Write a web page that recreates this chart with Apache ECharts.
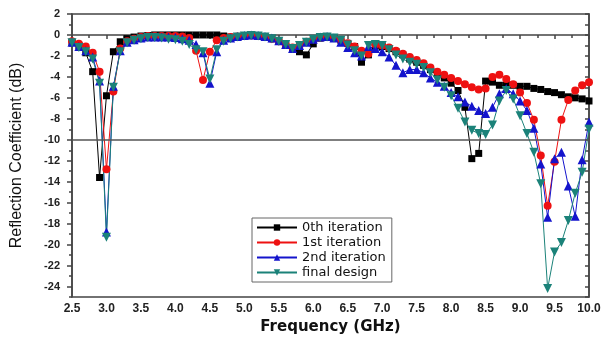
<!DOCTYPE html>
<html>
<head>
<meta charset="utf-8">
<script src="https://cdn.jsdelivr.net/npm/echarts@6/dist/echarts.min.js"></script>
<style>
  html, body { margin: 0; padding: 0; background: #fff; }
  #chart { width: 604px; height: 345px; }
</style>
</head>
<body>
<div id="chart"></div>
<script>
// frequency points (GHz)
var freq = [2.5, 2.6, 2.7, 2.8, 2.9, 3.0, 3.1, 3.2, 3.3, 3.4, 3.5, 3.6, 3.7, 3.8, 3.9, 4.0,
	4.1, 4.2, 4.3, 4.4, 4.5, 4.6, 4.7, 4.8, 4.9, 5.0, 5.1, 5.2, 5.3, 5.4, 5.5, 5.6, 5.7, 5.8,
	5.9, 6.0, 6.1, 6.2, 6.3, 6.4, 6.5, 6.6, 6.7, 6.8, 6.9, 7.0, 7.1, 7.2, 7.3, 7.4, 7.5, 7.6,
	7.7, 7.8, 7.9, 8.0, 8.1, 8.2, 8.3, 8.4, 8.5, 8.6, 8.7, 8.8, 8.9, 9.0, 9.1, 9.2, 9.3, 9.4,
	9.5, 9.6, 9.7, 9.8, 9.9, 10.0];

// reflection coefficient (dB)
var iter0 = [-0.7, -1.0, -1.7, -3.5, -13.6, -5.8, -1.6, -0.65, -0.35, -0.2, -0.1, -0.05, 0, 0, 0, 0,
	0, 0, 0, 0, 0, 0, -0.1, -0.2, -0.15, -0.1, -0.05, -0.1, -0.2, -0.35, -0.6, -0.9, -1.2, -1.6,
	-1.9, -0.85, -0.3, -0.2, -0.3, -0.5, -0.8, -1.1, -2.6, -1.9, -1.0, -1.1, -1.3, -1.6, -1.9, -2.3, -2.6, -2.9,
	-3.3, -3.7, -4.1, -4.6, -5.3, -6.9, -11.8, -11.3, -4.4, -4.5, -4.8, -4.8, -4.8, -4.9, -4.9, -5.1, -5.2, -5.4,
	-5.5, -5.7, -5.9, -6.0, -6.1, -6.3];

var iter1 = [-0.6, -0.85, -1.1, -1.7, -3.5, -12.8, -5.4, -1.3, -0.6, -0.35, -0.2, -0.1, -0.1, -0.1, -0.1, -0.1,
	-0.15, -0.3, -1.5, -4.3, -1.6, -0.5, -0.3, -0.2, -0.15, -0.1, -0.05, -0.1, -0.2, -0.35, -0.6, -0.9, -1.2, -1.0,
	-0.65, -0.4, -0.25, -0.2, -0.3, -0.5, -0.8, -1.1, -1.5, -1.8, -0.9, -1.0, -1.2, -1.5, -1.8, -2.1, -2.4, -2.7,
	-3.1, -3.5, -3.8, -4.1, -4.4, -4.7, -5.0, -5.2, -5.1, -4.0, -3.8, -4.2, -4.7, -5.5, -6.5, -8.1, -11.5, -16.3,
	-12.1, -8.1, -6.2, -5.3, -4.8, -4.5];

var iter2 = [-0.7, -1.1, -1.5, -2.1, -4.4, -18.8, -4.9, -1.5, -0.7, -0.45, -0.3, -0.2, -0.2, -0.2, -0.2, -0.25,
	-0.35, -0.5, -0.9, -1.7, -4.6, -1.6, -0.5, -0.3, -0.15, -0.05, 0, -0.05, -0.15, -0.3, -0.55, -0.9, -1.3, -1.0,
	-0.7, -0.4, -0.2, -0.15, -0.3, -0.7, -1.2, -1.7, -2.0, -1.1, -1.3, -1.6, -2.1, -2.9, -3.6, -3.3, -3.3, -3.6,
	-4.1, -4.5, -4.9, -5.5, -5.9, -6.4, -6.8, -7.2, -7.5, -6.9, -5.6, -5.1, -5.6, -6.3, -7.2, -8.9, -12.3, -17.4,
	-11.8, -11.2, -14.4, -17.3, -11.9, -8.3];

var finalDesign = [-0.75, -1.2, -1.6, -2.3, -4.6, -19.3, -5.0, -1.6, -0.75, -0.5, -0.35, -0.25, -0.25, -0.3, -0.4, -0.45,
	-0.6, -0.9, -1.4, -1.6, -4.2, -1.4, -0.6, -0.35, -0.2, -0.1, -0.05, -0.1, -0.2, -0.35, -0.6, -0.9, -1.3, -1.0,
	-0.7, -0.4, -0.25, -0.2, -0.3, -0.5, -0.95, -1.5, -2.0, -1.0, -0.9, -1.0, -1.4, -1.9, -2.3, -2.6, -2.8, -3.1,
	-3.6, -4.3, -5.0, -5.8, -7.0, -8.3, -9.1, -9.4, -9.5, -8.6, -6.3, -5.3, -6.1, -7.7, -9.4, -11.2, -14.2, -24.2,
	-20.7, -19.8, -17.7, -15.1, -13.1, -9.0];

var seriesNames = ['0th iteration', '1st iteration', '2nd iteration', 'final design'];
var yMajor = [2, 0, -2, -4, -6, -8, -10, -12, -14, -16, -18, -20, -22, -24];
var yMinor = [1, -1, -3, -5, -7, -9, -11, -13, -15, -17, -19, -21, -23, -25];

function pairs(vals) {
	return freq.map(function (f, i) { return [f, vals[i]]; });
}

var font = '"Liberation Sans", Arial, sans-serif';
var wideFont = '"DejaVu Sans", sans-serif';
var axisColor = '#444';

var chart = echarts.init(document.getElementById('chart'), null, { renderer: 'canvas' });

function lineSeries(name, vals, color, symbol, size, rotate) {
	return {
		name: name,
		type: 'line',
		data: pairs(vals),
		symbol: symbol,
		symbolSize: size,
		symbolRotate: rotate || 0,
		itemStyle: { color: color },
		lineStyle: { color: color, width: 1 },
		emphasis: { disabled: true }
	};
}

var series = [
	lineSeries(seriesNames[0], iter0, '#000000', 'rect', 7),
	lineSeries(seriesNames[1], iter1, '#ee1111', 'circle', 8),
	lineSeries(seriesNames[2], iter2, '#1414cc', 'triangle', 9),
	lineSeries(seriesNames[3], finalDesign, '#1b8279', 'triangle', 9, 180)
];

// -10 dB reference line
series[0].markLine = {
	silent: true,
	symbol: 'none',
	label: { show: false },
	lineStyle: { color: '#555', width: 1.5, type: 'solid' },
	data: [{ yAxis: -10 }]
};

var option = {
	animation: false,
	grid: {
		left: 72, right: 15, top: 14, bottom: 48,
		show: true, borderColor: axisColor, borderWidth: 1.5
	},
	legend: {
		data: seriesNames,
		orient: 'vertical',
		left: 252, top: 218,
		itemWidth: 40, itemHeight: 8, itemGap: 2,
		padding: [3, 6, 3, 4],
		borderColor: '#666', borderWidth: 1,
		textStyle: { fontFamily: wideFont, fontSize: 13, color: '#111' }
	},
	xAxis: {
		type: 'value',
		min: 2.5, max: 10, interval: 0.5,
		name: 'Frequency (GHz)',
		nameLocation: 'middle',
		nameGap: 21,
		nameTextStyle: { fontFamily: wideFont, fontSize: 15, fontWeight: 'bold', color: '#111' },
		axisLine: { lineStyle: { color: axisColor, width: 1.5 } },
		axisTick: { length: 4, lineStyle: { color: axisColor, width: 1.5 } },
		minorTick: { show: true, splitNumber: 2, length: 3, lineStyle: { color: axisColor, width: 1.5 } },
		axisLabel: {
			fontFamily: font, fontSize: 12, fontWeight: 'bold', color: '#222', margin: 6,
			formatter: function (v) { return v.toFixed(1); }
		},
		splitLine: { show: false }
	},
	yAxis: [{
		type: 'value',
		min: -25, max: 2, interval: 1,
		name: 'Reflection Coefficient (dB)',
		nameLocation: 'middle',
		nameGap: 47,
		nameTextStyle: { fontFamily: font, fontSize: 16, color: '#111' },
		axisLine: { lineStyle: { color: axisColor, width: 1.5 } },
		axisTick: { length: 5, customValues: yMajor, lineStyle: { color: axisColor, width: 1.5 } },
		axisLabel: {
			customValues: yMajor, margin: 12,
			fontFamily: font, fontSize: 11, fontWeight: 'bold', color: '#222'
		},
		splitLine: { show: false }
	}, {
		type: 'value',
		min: -25, max: 2, interval: 1,
		position: 'left',
		axisLine: { show: false },
		axisTick: { length: 3, customValues: yMinor, lineStyle: { color: axisColor, width: 1.5 } },
		axisLabel: { show: false },
		splitLine: { show: false }
	}, {
		type: 'value',
		min: -25, max: 2, interval: 1,
		position: 'right',
		axisLine: { show: true, lineStyle: { color: axisColor, width: 1.5 } },
		axisTick: { inside: true, length: 4, lineStyle: { color: axisColor, width: 1.5 } },
		axisLabel: { show: false },
		splitLine: { show: false }
	}],
	series: series
};

chart.setOption(option);
</script>
</body>
</html>
